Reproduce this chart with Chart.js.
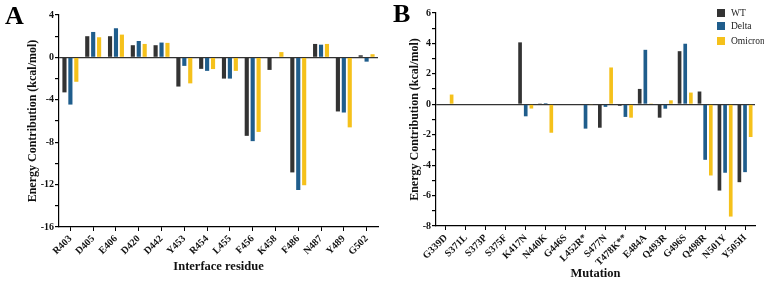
<!DOCTYPE html>
<html><head><meta charset="utf-8">
<script src="https://cdn.jsdelivr.net/npm/chart.js@4/dist/chart.umd.min.js"></script>
<style>
html,body{margin:0;padding:0;background:#fff;}
#wrap{position:relative;width:764px;height:281px;overflow:hidden;font-family:"Liberation Serif","Times New Roman",serif;}
#ca{position:absolute;left:0;top:0;}
#cb{position:absolute;left:384px;top:0;}
.pl{position:absolute;font-weight:bold;font-size:26px;line-height:1;color:#000;}
.lg{position:absolute;left:717px;font-size:9.5px;color:#222;line-height:12px;}
.lg span{position:absolute;left:0;top:2px;width:8px;height:8px;}
.lg b{font-weight:normal;position:absolute;left:14px;top:0;white-space:nowrap;}
</style></head>
<body><div id="wrap">
<canvas id="ca" width="384" height="281"></canvas>
<canvas id="cb" width="380" height="281"></canvas>
<div class="pl" style="left:5px;top:3px;">A</div>
<div class="pl" style="left:393px;top:1px;">B</div>
<div class="lg" style="top:7px;"><span style="background:#333333"></span><b>WT</b></div>
<div class="lg" style="top:20px;"><span style="background:#1f5d8c"></span><b>Delta</b></div>
<div class="lg" style="top:35px;"><span style="background:#f5c11b"></span><b>Omicron</b></div>
</div>
<script>
// Panel A data
const residuesA = ['R403','D405','E406','D420','D442','Y453','R454','L455','F456','K458','F486','N487','Y489','G502'];
const wtA      = [-3.3, 2.0, 2.0, 1.15, 1.15, -2.75, -1.08, -2.0, -7.4, -1.18, -10.85, 1.27, -5.1, 0.2];
const deltaA   = [-4.45, 2.4, 2.75, 1.55, 1.4, -0.8, -1.27, -2.0, -7.9, 0, -12.5, 1.2, -5.2, -0.4];
const omicronA = [-2.3, 1.9, 2.15, 1.27, 1.37, -2.45, -1.1, -1.27, -7.03, 0.5, -12.06, 1.27, -6.6, 0.3];
// Panel B data
const mutationsB = ['G339D','S371L','S373P','S375F','K417N','N440K','G446S','L452R*','S477N','T478K**','E484A','Q493R','G496S','Q498R','N501Y','Y505H'];
const wtB      = [0, 0, 0.04, 0, 4.07, 0.02, -0.03, 0, -1.54, -0.1, 1.01, -0.88, 3.49, 0.84, -5.67, -5.12];
const deltaB   = [0, 0, 0, 0, -0.79, 0.08, 0, -1.6, -0.17, -0.83, 3.58, -0.29, 3.98, -3.65, -4.5, -4.46];
const omicronB = [0.64, 0, 0, 0, -0.28, -1.87, 0, -0.05, 2.42, -0.88, 0.02, 0.26, 0.77, -4.68, -7.38, -2.15];
const seriesNames = ['WT','Delta','Omicron'];
const colors = ['#333333','#1f5d8c','#f5c11b'];
const tickFontA = {family:'Liberation Serif', weight:'bold', size:10};

function makeChart(id, labels, series, cfg){
  new Chart(document.getElementById(id), {
    type:'bar',
    data:{labels:labels, datasets: series.map((d,i)=>({label:seriesNames[i], data:d, backgroundColor:colors[i], borderWidth:0,
      categoryPercentage:cfg.cat, barPercentage:cfg.bar}))},
    options:{
      responsive:false, animation:false, devicePixelRatio:1,
      layout:{padding:{left:0,right:cfg.padR,top:cfg.padT,bottom:0}},
      plugins:{legend:{display:false}, tooltip:{enabled:false}},
      scales:{
        x:{
          offset:true,
          grid:{offset:false, drawOnChartArea:false, tickLength:4, color:'#000', tickColor:'#000'},
          border:{color:'#000', width:1.2},
          ticks:{autoSkip:false, minRotation:45, maxRotation:45, padding:2, color:'#111', font:tickFontA},
          title:{display:true, text:cfg.xTitle, color:'#111', font:{family:'Liberation Serif', weight:'bold', size:12.5}, padding:{top:0,bottom:cfg.xtPad}},
          afterFit:(s)=>{ s.height = cfg.xH; }
        },
        y:{
          min:cfg.min, max:cfg.max,
          grid:{drawOnChartArea:true, tickLength:4, lineWidth:1.2,
            color:(c)=> (c.tick && c.tick.value===0) ? '#333' : 'rgba(0,0,0,0)', tickColor:'#000'},
          border:{color:'#000', width:1.2},
          ticks:{stepSize:1, padding:1, color:'#111', font:tickFontA,
            callback:(v)=> (v % cfg.major === 0) ? String(v) : ''},
          title:{display:true, text:'Energy Contribution (kcal/mol)', color:'#111', font:{family:'Liberation Serif', weight:'bold', size:12}, padding:{top:cfg.ytPad,bottom:0}},
          afterFit:(s)=>{ s.width = cfg.yW; }
        }
      }
    }
  });
}

makeChart('ca', residuesA, [wtA, deltaA, omicronA],
  {cat:0.78, bar:0.7, padR:6, padT:15, xH:54, xtPad:7, min:-16, max:4, major:4, yW:59, ytPad:26, xTitle:'Interface residue'});
makeChart('cb', mutationsB, [wtB, deltaB, omicronB],
  {cat:0.85, bar:0.65, padR:9, padT:13, xH:55, xtPad:0, min:-8, max:6, major:2, yW:52, ytPad:24, xTitle:'Mutation'});
</script>
</body></html>
